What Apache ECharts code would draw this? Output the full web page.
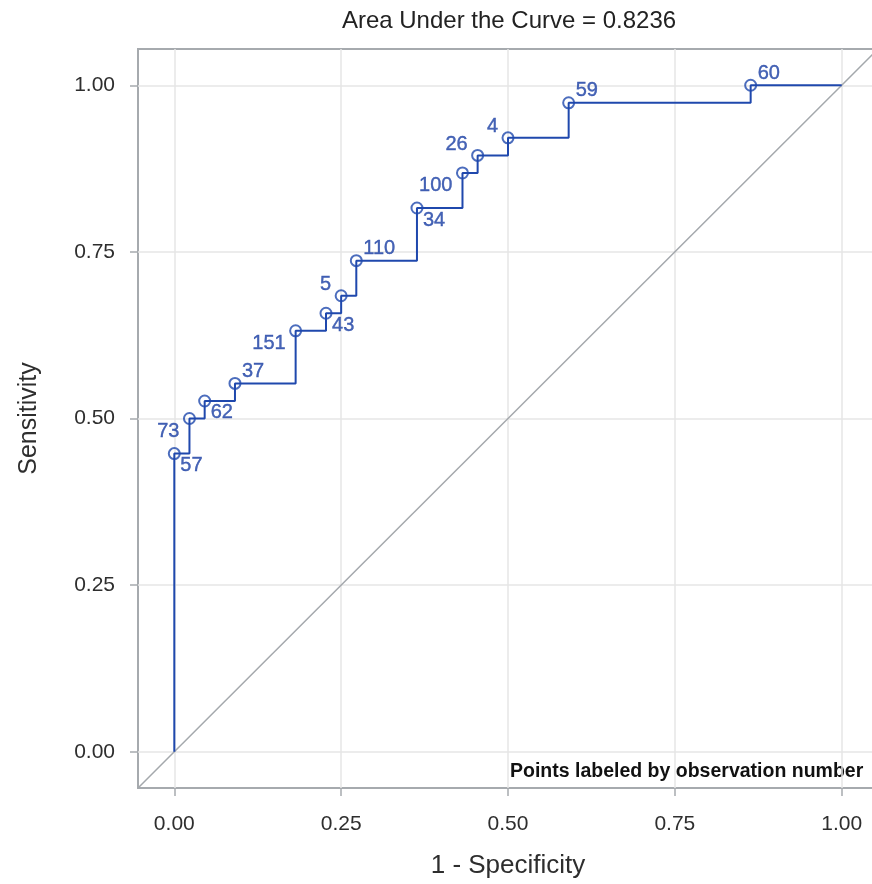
<!DOCTYPE html>
<html>
<head>
<meta charset="utf-8">
<script src="https://cdn.jsdelivr.net/npm/echarts@6/dist/echarts.min.js"></script>
<style>
html,body{margin:0;padding:0;background:#fff;overflow:hidden;}
#chart{width:882px;height:884px;}
</style>
</head>
<body>
<div id="chart"></div>
<script>
// ---- data ----
const titleText = 'Area Under the Curve = 0.8236';
const xName = '1 - Specificity';
const yName = 'Sensitivity';
const noteText = 'Points labeled by observation number';
const tickValues = [0, 0.25, 0.5, 0.75, 1];
const obsLabels = ['57','73','62','37','151','43','5','110','34','100','26','4','59','60'];
const oneMinusSpec = [0.0000, 0.0227, 0.0455, 0.0909, 0.1818, 0.2273, 0.2500, 0.2727, 0.3636, 0.4318, 0.4545, 0.5000, 0.5909, 0.8636];
const sensitivity  = [0.4474, 0.5000, 0.5263, 0.5526, 0.6316, 0.6579, 0.6842, 0.7368, 0.8158, 0.8684, 0.8947, 0.9211, 0.9737, 1.0000];
const curveStart = [0, 0];
const curveEnd = [1, 1];
// label quadrant per point: TR, BR, BL, TL
const labelPlacement = ['BR','BL','BR','TR','BL','BR','TL','TR','BR','BL','TL','TL','TR','TR'];

const axisMin = -0.0544, axisMax = 1.0544;
const blue = '#1f48ad';
const labelBlue = '#1a3fa4';
const frameColor = '#a6aaae';
const gridColor = '#e6e6e6';
const textColor = '#2e2e2e';

const points = oneMinusSpec.map((x, i) => [x, sensitivity[i]]);
const curve = [curveStart].concat(points, [curveEnd]);

const placeStyle = {
  TR: {align: 'left',  offset: [7, -12]},
  BR: {align: 'left',  offset: [6, 12]},
  BL: {align: 'right', offset: [-10, 13]},
  TL: {align: 'right', offset: [-10, -11]}
};

const scatterData = points.map((p, i) => {
  const s = placeStyle[labelPlacement[i]];
  return {
    value: p,
    name: obsLabels[i],
    label: {
      show: true,
      position: 'inside',
      formatter: obsLabels[i],
      align: s.align,
      verticalAlign: 'middle',
      offset: s.offset
    }
  };
});

const chart = echarts.init(document.getElementById('chart'), null, {renderer: 'canvas'});
const font = 'Liberation Sans, Arial, sans-serif';

chart.setOption({
  animation: false,
  backgroundColor: '#ffffff',
  title: {
    text: titleText,
    left: 504,
    textAlign: 'center',
    top: 4,
    textStyle: {fontFamily: font, fontSize: 24, fontWeight: 'normal', color: '#222'}
  },
  grid: {
    left: 138, top: 49, width: 740, height: 740,
    show: true, borderColor: frameColor, borderWidth: 2, backgroundColor: 'transparent',
    containLabel: false
  },
  xAxis: {
    type: 'value', min: axisMin, max: axisMax,
    name: xName, nameLocation: 'middle', nameGap: 65,
    nameTextStyle: {fontFamily: font, fontSize: 26, color: textColor},
    axisLine: {show: false, onZero: false},
    axisTick: {show: true, customValues: tickValues, length: 8, lineStyle: {color: frameColor, width: 1.5}},
    axisLabel: {customValues: tickValues, margin: 26, fontFamily: font, fontSize: 21, color: textColor,
      formatter: v => v.toFixed(2)},
    splitLine: {show: true, customValues: tickValues, lineStyle: {color: gridColor, width: 1.5}}
  },
  yAxis: {
    type: 'value', min: axisMin, max: axisMax,
    name: yName, nameLocation: 'middle', nameGap: 96, nameRotate: 90,
    nameTextStyle: {fontFamily: font, fontSize: 25, color: textColor},
    axisLine: {show: false, onZero: false},
    axisTick: {show: true, customValues: tickValues, length: 8, lineStyle: {color: frameColor, width: 1.5}},
    axisLabel: {customValues: tickValues, margin: 23, fontFamily: font, fontSize: 21, color: textColor,
      formatter: v => v.toFixed(2)},
    splitLine: {show: true, customValues: tickValues, lineStyle: {color: gridColor, width: 1.5}}
  },
  graphic: [{
    type: 'text',
    left: 510,
    top: 762,
    style: {text: noteText, fontFamily: font, fontSize: 19.5, fontWeight: 'bold', fill: '#111'}
  }],
  series: [
    {
      type: 'line',
      data: [[axisMin, axisMin], [axisMax, axisMax]],
      showSymbol: false, symbol: 'none',
      lineStyle: {color: '#a4a8ac', width: 1.5},
      clip: true, silent: true, z: 1
    },
    {
      type: 'line',
      data: curve,
      step: 'end',
      showSymbol: false, symbol: 'none',
      lineStyle: {color: blue, width: 2},
      z: 3
    },
    {
      type: 'scatter',
      data: scatterData,
      symbol: 'circle',
      symbolSize: 11,
      itemStyle: {color: 'rgba(0,0,0,0)', borderColor: blue, borderWidth: 2},
      label: {fontFamily: font, fontSize: 20, color: labelBlue, textBorderColor: labelBlue, textBorderWidth: 0.4},
      z: 4
    }
  ]
});
</script>
</body>
</html>
